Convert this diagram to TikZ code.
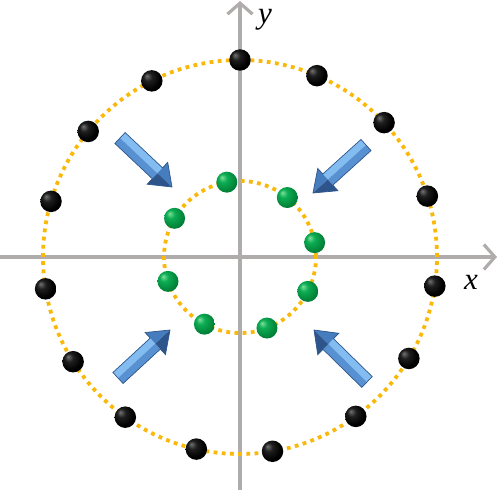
\documentclass[tikz,border=0pt]{standalone}
\usepackage{fontspec}
\setmainfont{Liberation Serif}
\usetikzlibrary{calc,arrows.meta}
\definecolor{axisgray}{RGB}{176,172,172}
\definecolor{dotorange}{RGB}{250,185,10}
\definecolor{blight}{RGB}{130,188,240}
\definecolor{bmid}{RGB}{88,145,210}
\definecolor{bhead}{RGB}{70,125,190}
\definecolor{bdark}{RGB}{45,85,140}
\pgfdeclareradialshading{blackballsh}{\pgfpoint{-12bp}{12bp}}{color(0bp)=(black!55);color(10bp)=(black!88);color(25bp)=(black);color(50bp)=(black)}
\pgfdeclareradialshading{greenballsh}{\pgfpoint{-12bp}{12bp}}{rgb(0bp)=(0.5,0.88,0.6);rgb(10bp)=(0.05,0.68,0.33);rgb(30bp)=(0,0.48,0.2);rgb(50bp)=(0,0.22,0.08)}
\newcommand\blarrow[4]{%
  \coordinate (H) at ($(#2)!20pt!(#1)$);
  \coordinate (U1) at ($(#1)!7.5pt!#3:(#2)$);
  \coordinate (U2) at ($(H)!7.5pt!#3:(#2)$);
  \coordinate (U3) at ($(H)!15pt!#3:(#2)$);
  \coordinate (D1) at ($(#1)!7.5pt!#4:(#2)$);
  \coordinate (D2) at ($(H)!7.5pt!#4:(#2)$);
  \coordinate (D3) at ($(H)!15pt!#4:(#2)$);
  \fill[blight] (#1) -- (U1) -- (U2) -- (H) -- cycle;
  \fill[bmid] (#1) -- (D1) -- (D2) -- (H) -- cycle;
  \fill[bhead] (H) -- (U3) -- (#2) -- cycle;
  \fill[bdark] (H) -- (D3) -- (#2) -- cycle;
  \draw[bdark, line width=0.7pt, line join=miter] (U1) -- (U2) -- (U3) -- (#2) -- (D3) -- (D2) -- (D1) -- cycle;
}
\tikzset{
  axisline/.style={axisgray, line width=3.2pt, -{Straight Barb[length=11pt,width=25pt,line width=3.2pt]}},
  dotcirc/.style={dotorange, line width=3.8pt, dash pattern=on 3.8pt off 4.4pt},
  bball/.style={circle, minimum size=21.5pt, inner sep=0pt, shading=blackballsh},
  gball/.style={circle, minimum size=21pt, inner sep=0pt, shading=greenballsh},
  lab/.style={font=\fontsize{31}{33}\selectfont\itshape, inner sep=0pt}
}
\begin{document}
\begin{tikzpicture}[x=1pt,y=1pt]
\useasboundingbox (-240,-233) rectangle (258,257);
\coordinate (xl) at (-240,0);
\coordinate (xr) at (257,0);
\coordinate (yb) at (0,-233);
\coordinate (yt) at (0,256);
\draw[axisline] (xl) -- (xr);
\draw[axisline] (yb) -- (yt);
\node[lab] (xlab) at (231,-25) {x};
\node[lab] (ylab) at (25,237) {y};
\draw[dotcirc] (0,0) circle[radius=197pt];
\draw[dotcirc] (0,0) circle[radius=76pt];
\foreach \a [count=\i] in {90,67,43,18,-8.5,-31,-54,-80.5,-102.8,-125.6,-147.9,-170.7,163.6,140.4,116.6}
  \node[bball] (o\i) at (\a:197pt) {};
\foreach \a [count=\i] in {100,51.5,10.9,-26.9,-69.2,-117.9,-161.3,149.4}
  \node[gball] (g\i) at (\a:76pt) {};
\coordinate (tlT) at (-120,119); \coordinate (tlP) at (-68,70);
\coordinate (trT) at (126,112);  \coordinate (trP) at (73,64);
\coordinate (blT) at (-122,-121); \coordinate (blP) at (-70,-73);
\coordinate (brT) at (127,-125); \coordinate (brP) at (74,-73);
\blarrow{tlT}{tlP}{90}{-90}
\blarrow{trT}{trP}{-90}{90}
\blarrow{blT}{blP}{90}{-90}
\blarrow{brT}{brP}{-90}{90}
\end{tikzpicture}
\end{document}
